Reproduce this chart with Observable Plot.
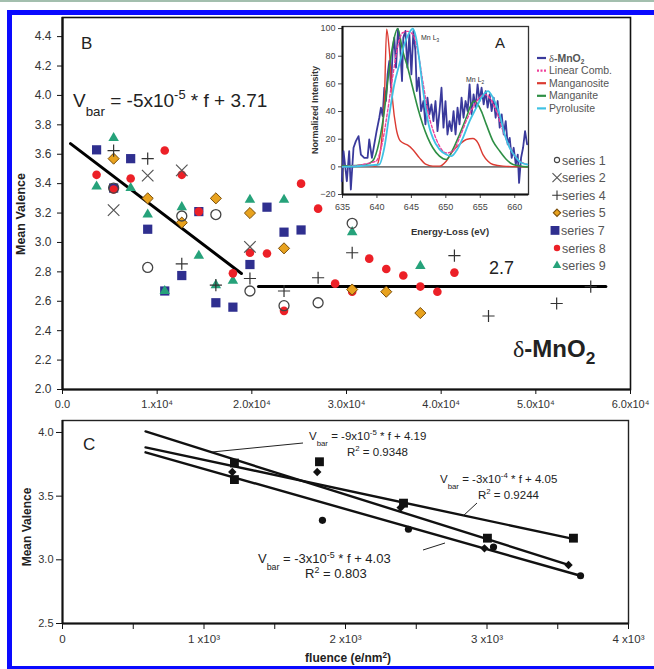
<!DOCTYPE html>
<html><head><meta charset="utf-8">
<script src="https://cdn.jsdelivr.net/npm/d3@7"></script>
<script src="https://cdn.jsdelivr.net/npm/@observablehq/plot@0.6"></script>
<style>
html,body{margin:0;padding:0;background:#fff;}
#root{position:relative;width:654px;height:669px;overflow:hidden;background:#fff;}
.topline{position:absolute;left:0;top:0;width:654px;height:2px;background:#a3bfae;}
.border{position:absolute;left:7px;top:10px;width:720px;height:651px;border-top:5px solid #0a0aff;border-left:5px solid #0a0aff;border-bottom:3px solid #0a0aff;}
</style></head><body><div id="root"><div class="topline"></div><div class="border"></div></div>
<script>
const FONT = "Arial, 'Liberation Sans', Helvetica, sans-serif";

// ---------- Panel B data (fluence e/nm^2, mean valence) ----------
const fluenceTicks = [0, 10000, 20000, 30000, 40000, 50000, 60000];
const fluenceTickLabels = ["0.0", "1.x10⁴", "2.0x10⁴", "3.0x10⁴", "4.0x10⁴", "5.0x10⁴", "6.0x10⁴"];
const valenceTicks = [2.0, 2.2, 2.4, 2.6, 2.8, 3.0, 3.2, 3.4, 3.6, 3.8, 4.0, 4.2, 4.4];

const series1 = [[5400,3.37],[9000,2.83],[12600,3.18],[16200,3.19],[19800,2.67],[23400,2.57],[27000,2.59],[30600,3.13]];
const series2 = [[5400,3.22],[9000,3.455],[12600,3.49],[19800,2.97]];
const series4 = [[5400,3.625],[9000,3.57],[12600,2.855],[16200,2.71],[19800,2.755],[23400,2.67],[27000,2.76],[30600,2.93],[41400,2.91],[45000,2.50],[52200,2.585],[55800,2.70]];
const series5 = [[5400,3.57],[9000,3.30],[12600,3.135],[16200,3.30],[19800,3.20],[23400,2.96],[30600,2.68],[34200,2.665],[37800,2.52]];
const series7 = [[3600,3.63],[7200,3.57],[5400,3.37],[9000,3.09],[10800,2.67],[12600,2.775],[14400,3.21],[16200,2.59],[18000,2.56],[19800,2.85],[21600,3.24],[23400,3.07],[25200,3.085]];
const series8 = [[3600,3.46],[5400,3.36],[7200,3.435],[10800,3.625],[12600,3.46],[14400,3.21],[18000,2.79],[19800,2.93],[21600,2.925],[23400,2.535],[25200,3.40],[27000,3.23],[28800,2.72],[30600,2.665],[32400,2.89],[34200,2.82],[36000,2.775],[37800,2.70],[39600,2.665],[41400,2.795]];
const series9 = [[3600,3.38],[5400,3.71],[7200,3.37],[9000,3.19],[10800,2.67],[12600,3.24],[14400,2.91],[16200,2.71],[18000,2.74],[19800,3.29],[23400,3.29],[30600,3.07],[37800,2.84]];
const fitSlope = [[845,3.672],[18900,2.789]];
const fitFlat = [[20700,2.70],[57400,2.70]];

// ---------- Inset A data (energy loss eV, normalized intensity) ----------
const energyTicks = [635, 640, 645, 650, 655, 660];
const intensityTicks = [-20, 0, 20, 40, 60, 80, 100];
const deltaMnO2 = [[634.90,-10.4],[635.15,11.4],[635.63,-10.4],[635.97,11.4],[636.21,-16.4],[636.60,13.8],[636.94,18.6],[637.33,22.2],[637.67,8.9],[638.16,6.5],[638.64,6.5],[638.88,19.8],[639.27,6.5],[639.61,16.2],[639.95,25.8],[640.34,35.5],[640.58,42.8],[640.83,36.7],[641.07,57.2],[641.31,47.6],[641.55,66.9],[641.80,76.6],[642.04,57.2],[642.28,83.8],[642.52,93.5],[642.77,71.7],[643.06,99.5],[643.35,88.6],[643.64,62.1],[643.83,93.5],[644.13,98.3],[644.42,71.7],[644.71,95.9],[645.00,66.9],[645.29,98.3],[645.58,83.8],[645.78,54.8],[646.07,64.5],[646.41,40.3],[646.75,47.6],[647.04,30.7],[647.33,50.0],[647.62,37.9],[647.91,45.2],[648.20,33.1],[648.50,47.6],[648.79,25.8],[649.08,40.3],[649.37,57.2],[649.66,28.3],[649.95,47.6],[650.24,23.4],[650.53,33.1],[650.83,25.8],[651.12,40.3],[651.41,23.4],[651.70,42.8],[651.99,30.7],[652.28,50.0],[652.57,35.5],[652.86,47.6],[653.16,40.3],[653.45,59.7],[653.74,37.9],[654.03,52.4],[654.32,42.8],[654.61,59.7],[654.90,47.6],[655.19,57.2],[655.49,45.2],[655.78,54.8],[656.07,42.8],[656.36,52.4],[656.65,40.3],[656.94,50.0],[657.23,35.5],[657.52,47.6],[657.82,28.3],[658.11,37.9],[658.40,23.4],[658.69,33.1],[658.98,16.2],[659.27,21.0],[659.56,6.5],[659.85,13.8],[660.15,1.7],[660.44,8.9],[660.63,-11.6],[660.92,6.5],[661.21,13.8],[661.50,25.8],[661.80,16.2]];
const manganosite = [[635,0.5],[639.85,0.5],[640.34,6.5],[640.83,28],[641.07,47],[641.41,99.5],[641.80,84],[642.28,47.6],[642.77,28.3],[643.25,19.8],[643.74,17.4],[644.47,15.7],[645.19,12.6],[646.17,6.5],[647.14,1.7],[648.11,0.5],[649.08,0.5],[650.05,4.1],[651.02,11.4],[651.99,16.2],[652.96,19.8],[653.93,20.5],[654.66,17.4],[655.39,8.9],[656.12,4.1],[656.84,1.7],[658.30,0.5],[661.84,0]];
const manganite = [[635,0.5],[638.4,1.7],[639.37,4.1],[640.34,18.6],[641.07,40.3],[641.80,71.7],[642.52,93.5],[643.01,100],[643.74,83.8],[644.47,71.7],[645.19,57.2],[645.92,42.8],[646.65,30.7],[647.38,21.0],[648.11,13.8],[649.08,7.7],[650.05,5.3],[651.02,12.6],[651.99,23.4],[652.96,35.5],[653.69,45.2],[654.17,47.6],[655.15,40.3],[655.87,30.7],[656.84,18.6],[657.82,11.4],[658.79,5.3],[659.76,1.7],[661.84,0]];
const pyrolusite = [[635,0],[640.34,1.7],[641.07,13.8],[641.80,37.9],[642.52,59.7],[643.25,74.2],[643.98,88.6],[644.71,97.1],[645.19,100],[645.68,93.5],[646.17,76.6],[646.65,57.2],[647.14,40.3],[647.62,28.3],[648.11,21.0],[649.08,12.6],[650.05,8.9],[650.78,7.7],[651.50,11.4],[652.48,21.0],[653.45,33.1],[654.42,42.8],[655.15,50.0],[656.12,54.8],[656.84,50.0],[657.82,37.9],[658.54,23.4],[659.27,13.8],[660.24,6.5],[660.97,2.9],[661.84,1.7]];
const linearComb = [[635,0],[639.85,4.1],[640.83,18.6],[641.55,40.3],[642.28,65.0],[643.01,87.0],[643.74,97.0],[644.47,98.0],[645.19,95.9],[645.92,84.0],[646.65,62.0],[647.38,40.3],[648.11,27.0],[649.08,15.0],[650.05,10.0],[651.02,11.4],[651.99,21.0],[652.96,33.1],[653.93,43.0],[654.90,50.0],[655.63,52.4],[656.36,50.0],[657.33,40.3],[658.30,26.0],[659.27,14.0],[660.24,6.5],[661.84,1.7]];

// ---------- Panel C data ----------
const cFluenceTicks = [0, 500, 1000, 1500, 2000, 2500, 3000, 3500, 4000];
const cFluenceLabels = ["0", "", "1 x10³", "", "2 x10³", "", "3 x10³", "", "4 x10³"];
const cValenceTicks = [2.5, 3.0, 3.5, 4.0];
const cSquares = [[1215,3.76],[1215,3.63],[1816,3.77],[2410,3.445],[3003,3.17],[3611,3.17]];
const cDiamonds = [[1200,3.69],[1800,3.69],[2390,3.41],[2982,3.09],[3576,2.96]];
const cCircles = [[1837,3.31],[2445,3.24],[3046,3.10],[3661,2.875]];
const cFitSteep = [[587,4.008],[3576,2.961]];
const cFitShallow = [[587,3.883],[3576,3.172]];
const cFitLow = [[587,3.844],[3661,2.875]];

const root = document.getElementById("root");
const X = d => d[0], Y = d => d[1];
function place(el, left, top) {
  el.style.position = "absolute"; el.style.left = left + "px"; el.style.top = top + "px";
  el.style.maxWidth = "none"; el.style.background = "transparent"; el.style.overflow = "visible";
  root.appendChild(el);
}

const fLabel = new Map(fluenceTicks.map((t, i) => [t, fluenceTickLabels[i]]));
const COL = {sq: "#2f2f8f", red: "#ec2027", tri: "#26a27a", dia: "#e8a21e", diaS: "#7a4e0a", x: "#555", plus: "#333", ring: "#444"};

const chartB = Plot.plot({
  width: 654, height: 420,
  marginLeft: 62, marginRight: 24, marginTop: 17, marginBottom: 31,
  style: {fontFamily: FONT, fontSize: "11px", color: "#333", background: "transparent"},
  x: {domain: [0, 60000]},
  y: {domain: [2.0, 4.53]},
  marks: [
    Plot.axisX({ticks: fluenceTicks, tickFormat: d => fLabel.get(d), tickSize: 5, tickPadding: 6, label: null, stroke: "#111", fill: "#333", fontSize: 11}),
    Plot.axisY({ticks: valenceTicks, tickFormat: d => d.toFixed(1), tickSize: 5, tickPadding: 6, label: null, stroke: "#111", fill: "#333", fontSize: 12}),
    Plot.frame({stroke: "#111", strokeWidth: 1.6}),
    Plot.ruleX([0], {stroke: "#111", strokeWidth: 2.2}),
    Plot.ruleY([2.0], {stroke: "#111", strokeWidth: 2.2}),
    Plot.line(fitSlope, {x: X, y: Y, stroke: "#000", strokeWidth: 3}),
    Plot.line(fitFlat, {x: X, y: Y, stroke: "#000", strokeWidth: 3}),
    Plot.dot(series7, {x: X, y: Y, symbol: "square", r: 5.2, fill: COL.sq}),
    Plot.dot(series9, {x: X, y: Y, symbol: "triangle", r: 3.9, fill: COL.tri}),
    Plot.dot(series8, {x: X, y: Y, symbol: "circle", r: 4.3, fill: COL.red}),
    Plot.dot(series5, {x: X, y: Y, symbol: "diamond2", r: 5, fill: COL.dia, stroke: COL.diaS, strokeWidth: 1}),
    Plot.dot(series4, {x: X, y: Y, symbol: "plus", r: 4, stroke: COL.plus, strokeWidth: 1.2}),
    Plot.dot(series2, {x: X, y: Y, symbol: "times", r: 5.3, stroke: COL.x, strokeWidth: 1.2}),
    Plot.dot(series1, {x: X, y: Y, symbol: "circle", r: 5, fill: "none", stroke: COL.ring, strokeWidth: 1.3})
  ]
});
place(chartB, 0, 0);

const chartA = Plot.plot({
  width: 250, height: 245,
  marginLeft: 52, marginRight: 12, marginTop: 26, marginBottom: 51,
  style: {fontFamily: FONT, fontSize: "9px", color: "#444", background: "transparent"},
  x: {domain: [635, 662]},
  y: {domain: [-20, 101.5]},
  marks: [
    Plot.frame({stroke: "#333", strokeWidth: 1.3}),
    Plot.ruleY([0], {stroke: "#777", strokeWidth: 1.6}),
    Plot.axisX({ticks: energyTicks, tickSize: 4, tickPadding: 5, label: null, fill: "#444", fontSize: 9}),
    Plot.axisY({ticks: intensityTicks, tickSize: 4, tickPadding: 3, label: null, fill: "#444", fontSize: 9}),
    Plot.ruleX([635], {stroke: "#111", strokeWidth: 2}),
    Plot.ruleY([-20], {stroke: "#111", strokeWidth: 2}),
    Plot.line(deltaMnO2, {x: X, y: Y, stroke: "#3a3a9c", strokeWidth: 1.8}),
    Plot.line(manganosite, {x: X, y: Y, stroke: "#db3b32", strokeWidth: 1.4, curve: "monotone-x"}),
    Plot.line(manganite, {x: X, y: Y, stroke: "#2e8f45", strokeWidth: 1.6, curve: "monotone-x"}),
    Plot.line(linearComb, {x: X, y: Y, stroke: "#f0409a", strokeWidth: 1.4, strokeDasharray: "3,2", curve: "monotone-x"}),
    Plot.line(pyrolusite, {x: X, y: Y, stroke: "#3fc2e4", strokeWidth: 1.8, curve: "monotone-x"})
  ]
});
place(chartA, 290, 0);

const cLabel = new Map(cFluenceTicks.map((t, i) => [t, cFluenceLabels[i]]));
const chartC = Plot.plot({
  width: 654, height: 257,
  marginLeft: 62, marginRight: 26, marginTop: 8, marginBottom: 46,
  style: {fontFamily: FONT, fontSize: "11px", color: "#333", background: "transparent"},
  x: {domain: [0, 4000]},
  y: {domain: [2.5, 4.094]},
  marks: [
    Plot.axisX({ticks: cFluenceTicks, tickFormat: d => cLabel.get(d), tickSize: 6, tickPadding: 5, label: null, stroke: "#111", fill: "#333", fontSize: 11.5}),
    Plot.axisY({ticks: cValenceTicks, tickFormat: d => d.toFixed(1), tickSize: 6, tickPadding: 3, label: null, stroke: "#111", fill: "#333", fontSize: 11}),
    Plot.frame({stroke: "#222", strokeWidth: 1.4}),
    Plot.ruleX([0], {stroke: "#111", strokeWidth: 2}),
    Plot.ruleY([2.5], {stroke: "#111", strokeWidth: 2}),
    Plot.line(cFitSteep, {x: X, y: Y, stroke: "#111", strokeWidth: 2.4}),
    Plot.line(cFitShallow, {x: X, y: Y, stroke: "#111", strokeWidth: 2.4}),
    Plot.line(cFitLow, {x: X, y: Y, stroke: "#111", strokeWidth: 2.4}),
    Plot.dot(cCircles, {x: X, y: Y, symbol: "circle", r: 3.6, fill: "#111"}),
    Plot.dot(cDiamonds, {x: X, y: Y, symbol: "diamond2", r: 3.8, fill: "#111"}),
    Plot.dot(cSquares, {x: X, y: Y, symbol: "square", r: 5, fill: "#111"})
  ]
});
place(chartC, 0, 412);

// ---------- overlay: titles, annotations, legends ----------
const ov = d3.create("svg").attr("width", 654).attr("height", 669)
  .attr("font-family", FONT)
  .style("position", "absolute").style("left", "0px").style("top", "0px").style("pointer-events", "none");

function rich(x, y, parts, size, opts = {}) {
  const t = ov.append("text").attr("x", x).attr("y", y).attr("font-size", size)
    .attr("fill", opts.fill || "#222").attr("font-weight", opts.weight || "normal");
  if (opts.anchor) t.attr("text-anchor", opts.anchor);
  if (opts.transform) t.attr("transform", opts.transform);
  let shift = 0;
  for (const p of parts) {
    const target = p.sub ? size * (p.off || 0.38) : p.sup ? -size * (p.off || 0.4) : 0;
    const ts = t.append("tspan").text(p.t).attr("dy", target - shift);
    if (p.sub || p.sup) ts.attr("font-size", size * (p.scale || 0.68));
    if (p.w) ts.attr("font-weight", p.w);
    if (p.family) ts.attr("font-family", p.family);
    shift = target;
  }
  return t;
}

// axis titles
rich(0, 0, [{t: "Mean Valence"}], 12.5, {weight: "bold", anchor: "middle", transform: "translate(25,214) rotate(-90)"});
rich(0, 0, [{t: "Mean Valence"}], 12, {weight: "bold", anchor: "middle", transform: "translate(31,527) rotate(-90)"});
rich(348, 662, [{t: "fluence (e/nm"}, {t: "2", sup: true, off: 0.35}, {t: ")"}], 12, {weight: "bold", anchor: "middle"});
rich(0, 0, [{t: "Normalized Intensity"}], 9, {weight: "bold", anchor: "middle", transform: "translate(318,110) rotate(-90)", fill: "#333"});
rich(450, 235, [{t: "Energy-Loss (eV)"}], 9.5, {weight: "bold", anchor: "middle", fill: "#333"});

// panel B annotations
rich(81, 49, [{t: "B"}], 17);
rich(73, 107, [{t: "V"}, {t: "bar", sub: true, off: 0.45, scale: 0.7}, {t: " = -5x10"}, {t: "-5", sup: true, off: 0.42, scale: 0.68}, {t: " * f + 3.71"}], 19);
rich(489, 274, [{t: "2.7"}], 18);
rich(513, 357, [{t: "δ", family: "'Liberation Serif','DejaVu Serif',serif", w: "normal"}, {t: "-MnO"}, {t: "2", sub: true, off: 0.3, scale: 0.72}], 24, {weight: "bold"});

// inset A annotations
rich(495, 48, [{t: "A"}], 15);
rich(421, 40, [{t: "Mn L"}, {t: "3", sub: true, off: 0.35}], 7, {fill: "#333"});
rich(466, 82, [{t: "Mn L"}, {t: "2", sub: true, off: 0.35}], 7, {fill: "#333"});

// inset legend
const specLegend = [
  {parts: [{t: "δ", family: "'Liberation Serif','DejaVu Serif',serif"}, {t: "-MnO", w: "bold"}, {t: "2", sub: true, w: "bold", off: 0.2, scale: 0.62}], color: "#3a3a9c", dash: null},
  {parts: [{t: "Linear Comb."}], color: "#f0409a", dash: "2,1.5"},
  {parts: [{t: "Manganosite"}], color: "#db3b32", dash: null},
  {parts: [{t: "Manganite"}], color: "#2e8f45", dash: null},
  {parts: [{t: "Pyrolusite"}], color: "#3fc2e4", dash: null}
];
specLegend.forEach((d, i) => {
  const cy = 58 + i * 12.6;
  const ln = ov.append("line").attr("x1", 537).attr("x2", 546).attr("y1", cy).attr("y2", cy)
    .attr("stroke", d.color).attr("stroke-width", 2.2);
  if (d.dash) ln.attr("stroke-dasharray", d.dash);
  rich(549, cy + 3.6, d.parts, 10.5, {fill: "#555"});
});

// series legend
const seriesLegend = [
  {label: "series 1", sym: d3.symbolCircle, r: 2.6, fill: "none", stroke: COL.ring},
  {label: "series 2", sym: d3.symbolTimes, r: 4.2, fill: "none", stroke: COL.x},
  {label: "series 4", sym: d3.symbolPlus, r: 3.2, fill: "none", stroke: COL.plus},
  {label: "series 5", sym: d3.symbolDiamond2, r: 3.3, fill: COL.dia, stroke: COL.diaS},
  {label: "series 7", sym: d3.symbolSquare, r: 5, fill: COL.sq, stroke: "none"},
  {label: "series 8", sym: d3.symbolCircle, r: 3.2, fill: COL.red, stroke: "none"},
  {label: "series 9", sym: d3.symbolTriangle, r: 3.2, fill: COL.tri, stroke: "none"}
];
seriesLegend.forEach((d, i) => {
  const cy = 160 + i * 17.6;
  ov.append("path").attr("d", d3.symbol(d.sym, Math.PI * d.r * d.r)())
    .attr("transform", `translate(${d.sym === d3.symbolSquare ? 555 : 557},${cy})`)
    .attr("fill", d.fill).attr("stroke", d.stroke).attr("stroke-width", 1.1);
  rich(d.sym === d3.symbolSquare ? 561 : 562, cy + 4.5, [{t: d.label}], 12.5, {fill: "#555"});
});

// panel C annotations
rich(83, 450, [{t: "C"}], 17);
rich(309, 440, [{t: "V"}, {t: "bar", sub: true, off: 0.5}, {t: " = -9x10"}, {t: "-5", sup: true}, {t: " * f + 4.19"}], 11.5);
rich(347, 456, [{t: "R"}, {t: "2", sup: true}, {t: " = 0.9348"}], 11.5);
rich(440, 483, [{t: "V"}, {t: "bar", sub: true, off: 0.5}, {t: " = -3x10"}, {t: "-4", sup: true}, {t: " * f + 4.05"}], 11.5);
rich(478, 499, [{t: "R"}, {t: "2", sup: true}, {t: " = 0.9244"}], 11.5);
rich(258, 563, [{t: "V"}, {t: "bar", sub: true, off: 0.5}, {t: " = -3x10"}, {t: "-5", sup: true}, {t: " * f + 4.03"}], 13);
rich(305, 578, [{t: "R"}, {t: "2", sup: true}, {t: " = 0.803"}], 13);
const leaders = [[212, 452, 303, 443], [477, 503, 463, 516], [423, 550, 445, 543]];
leaders.forEach(l => ov.append("line").attr("x1", l[0]).attr("y1", l[1]).attr("x2", l[2]).attr("y2", l[3])
  .attr("stroke", "#222").attr("stroke-width", 1));

root.appendChild(ov.node());
</script></body></html>
